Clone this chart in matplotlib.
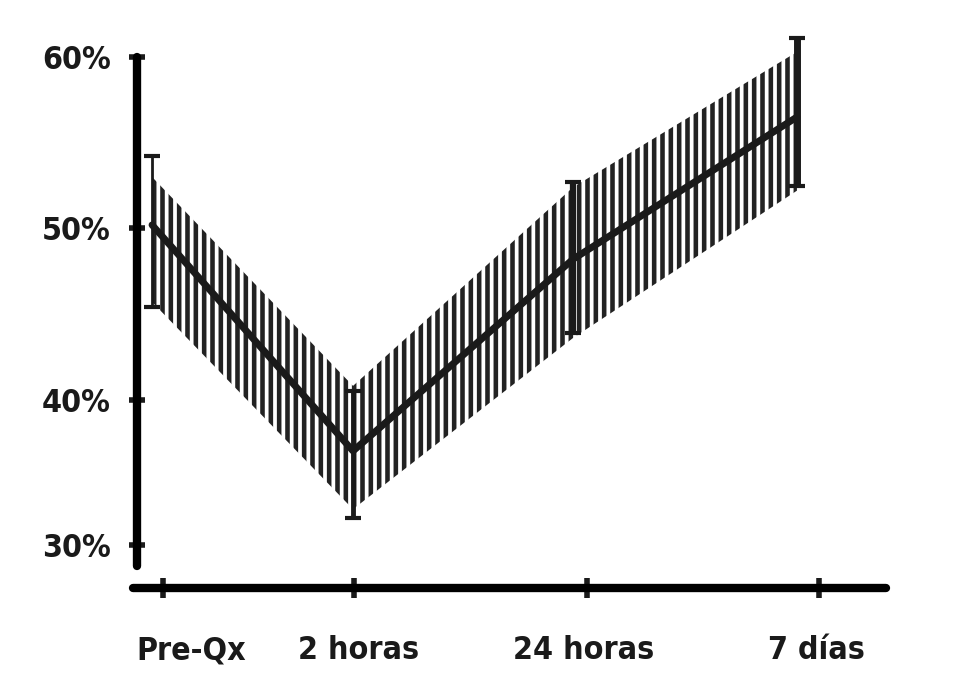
import matplotlib.pyplot as plt

# Values (percent)
timepoints = ['Pre-Qx', '2 horas', '24 horas', '7 días']
mean_vals = [50.2, 37.0, 48.2, 56.5]
band_upper = [53.0, 40.8, 52.4, 60.3]
band_lower = [45.7, 33.6, 43.6, 52.2]
err_upper = [54.2, 40.5, 52.7, 61.1]
err_lower = [45.4, 33.1, 43.9, 52.5]
ytick_vals = [31.5, 40, 50, 60]
ytick_labels = ['30%', '40%', '50%', '60%']

# layout positions along the (hand drawn) x axis
x_pos = [0.0, 1.0, 2.095, 3.209]
xtick_pos = [0.055, 1.005, 2.164, 3.318]
xlabel_pos = [0.194, 1.03, 2.149, 3.308]
bar_widths = [2.0, 3.5, 4.5, 5.0]

plt.rcParams['font.family'] = ['DejaVu Sans']
plt.rcParams['font.stretch'] = 'condensed'
plt.rcParams['hatch.linewidth'] = 3.3

fig = plt.figure(figsize=(9.58, 6.83), dpi=100)
ax = fig.add_axes([0.1388, 0.1391, 0.786, 0.835])

# hatched band
ax.fill_between(x_pos, band_lower, band_upper, facecolor='none',
                edgecolor='#222222', linewidth=0, hatch='||')

# mean line
ax.plot(x_pos, mean_vals, color='#1a1a1a', linewidth=5, solid_capstyle='round')

# error bars
for i in range(len(x_pos)):
    ax.errorbar(x_pos[i], mean_vals[i],
                yerr=[[mean_vals[i] - err_lower[i]], [err_upper[i] - mean_vals[i]]],
                fmt='none', ecolor='#1a1a1a', elinewidth=bar_widths[i],
                capsize=6, capthick=3)

ax.set_xlim(-0.095, 3.652)
ax.set_ylim(29.0, 62.3)

for s in ['top', 'right']:
    ax.spines[s].set_visible(False)
ax.spines['left'].set_position(('data', -0.075))
ax.spines['left'].set_bounds(30.3, 60)
ax.spines['left'].set_linewidth(6)
ax.spines['left'].set_capstyle('round')
ax.spines['bottom'].set_linewidth(6)
ax.spines['bottom'].set_capstyle('round')

ax.set_yticks(ytick_vals, ytick_labels)
ax.tick_params(axis='y', direction='inout', length=12, width=4, pad=13,
               labelsize=23, color='#1a1a1a')

ax.set_xticks(xtick_pos, [''] * len(xtick_pos))
ax.tick_params(axis='x', which='major', direction='inout', length=14, width=4,
               color='#1a1a1a')
ax.set_xticks(xlabel_pos, timepoints, minor=True)
ax.tick_params(axis='x', which='minor', length=0, pad=34, labelsize=23)

for lab in ax.get_yticklabels() + ax.get_xticklabels(minor=True):
    lab.set_fontweight('bold')
    lab.set_color('#1a1a1a')

plt.savefig('out.png', dpi=100)
